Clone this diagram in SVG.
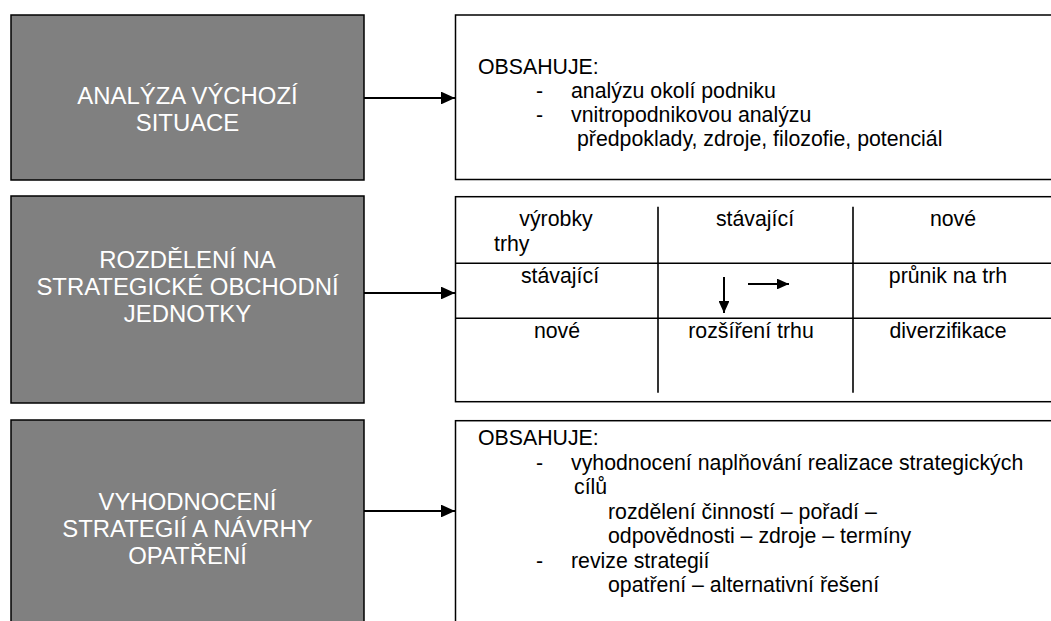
<svg xmlns="http://www.w3.org/2000/svg" width="1051" height="621" viewBox="0 0 1051 621">
<style>
.lbox{fill:#808080;stroke:#000;stroke-width:1.5}
.rbox{fill:#fff;stroke:#000;stroke-width:1.5}
.lt{font-family:"Liberation Sans",Arial,sans-serif;font-size:23.9px;fill:#fff;text-anchor:middle}
.rt{font-family:"Liberation Sans",Arial,sans-serif;font-size:21.3px;fill:#000}
.c{text-anchor:middle}
.grid{stroke:#000;stroke-width:1.6;fill:none}
.conn{stroke:#000;stroke-width:2;fill:none}
</style>
<defs>
<marker id="ah" markerWidth="7" markerHeight="6.4" refX="7" refY="3.2" orient="auto" markerUnits="strokeWidth">
<path d="M0,0 L7,3.2 L0,6.4 Z" fill="#000"/>
</marker>
<marker id="sh" markerWidth="6" markerHeight="5.4" refX="6" refY="2.7" orient="auto" markerUnits="strokeWidth">
<path d="M0,0 L6,2.7 L0,5.4 Z" fill="#000"/>
</marker>
</defs>
<rect width="1051" height="621" fill="#fff"/>

<g id="node-analyza">
<rect class="lbox" x="11" y="15" width="353" height="165"/>
<text class="lt" x="187.5" y="104">ANALÝZA VÝCHOZÍ</text>
<text class="lt" x="187.5" y="131">SITUACE</text>
</g>

<g id="node-rozdeleni">
<rect class="lbox" x="11" y="196" width="353" height="207"/>
<text class="lt" x="187.5" y="268">ROZDĚLENÍ NA</text>
<text class="lt" x="187.5" y="295">STRATEGICKÉ OBCHODNÍ</text>
<text class="lt" x="187.5" y="322">JEDNOTKY</text>
</g>

<g id="node-vyhodnoceni">
<rect class="lbox" x="11" y="420" width="353" height="220"/>
<text class="lt" x="187.5" y="510">VYHODNOCENÍ</text>
<text class="lt" x="187.5" y="537">STRATEGIÍ A NÁVRHY</text>
<text class="lt" x="187.5" y="564">OPATŘENÍ</text>
</g>

<g id="node-obsah1">
<rect class="rbox" x="455.5" y="15" width="620" height="164.5"/>
<text class="rt" x="478" y="74">OBSAHUJE:</text>
<text class="rt" x="536" y="98">-</text>
<text class="rt" x="571" y="98">analýzu okolí podniku</text>
<text class="rt" x="536" y="122">-</text>
<text class="rt" x="571" y="122">vnitropodnikovou analýzu</text>
<text class="rt" x="577" y="146">předpoklady, zdroje, filozofie, potenciál</text>
</g>

<g id="node-matice">
<rect class="rbox" x="455.5" y="196.7" width="620" height="205"/>
<line class="grid" x1="658" y1="206.7" x2="658" y2="392.7"/>
<line class="grid" x1="853" y1="206.7" x2="853" y2="392.7"/>
<line class="grid" x1="455.5" y1="263.3" x2="1051" y2="263.3"/>
<line class="grid" x1="455.5" y1="318.3" x2="1051" y2="318.3"/>
<text class="rt c" x="556" y="226">výrobky</text>
<text class="rt" x="494" y="251">trhy</text>
<text class="rt c" x="755" y="226">stávající</text>
<text class="rt c" x="953" y="226">nové</text>
<text class="rt c" x="560" y="283">stávající</text>
<text class="rt c" x="948" y="283">průnik na trh</text>
<text class="rt c" x="557" y="338">nové</text>
<text class="rt c" x="751" y="338">rozšíření trhu</text>
<text class="rt c" x="948" y="338">diverzifikace</text>
<line class="conn" x1="724" y1="277" x2="724" y2="313" marker-end="url(#sh)"/>
<line class="conn" x1="748" y1="284" x2="789" y2="284" marker-end="url(#sh)"/>
</g>

<g id="node-obsah3">
<rect class="rbox" x="455.5" y="420.7" width="620" height="220"/>
<text class="rt" x="478" y="445">OBSAHUJE:</text>
<text class="rt" x="536" y="469.5">-</text>
<text class="rt" x="571" y="469.5">vyhodnocení naplňování realizace strategických</text>
<text class="rt" x="574" y="494">cílů</text>
<text class="rt" x="608" y="518.5">rozdělení činností – pořadí –</text>
<text class="rt" x="608" y="543">odpovědnosti – zdroje – termíny</text>
<text class="rt" x="536" y="567.5">-</text>
<text class="rt" x="571" y="567.5">revize strategií</text>
<text class="rt" x="608" y="592">opatření – alternativní řešení</text>
</g>

<g id="connectors">
<line class="conn" x1="364" y1="98" x2="455" y2="98" marker-end="url(#ah)"/>
<line class="conn" x1="364" y1="293" x2="455" y2="293" marker-end="url(#ah)"/>
<line class="conn" x1="364" y1="511" x2="455" y2="511" marker-end="url(#ah)"/>
</g>
</svg>
